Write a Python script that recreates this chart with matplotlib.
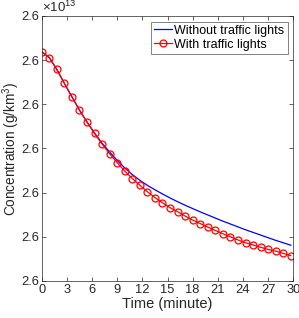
import matplotlib
matplotlib.use("Agg")
import matplotlib.pyplot as plt
from matplotlib.ticker import FuncFormatter, MultipleLocator

plt.rcParams['font.family'] = ['Liberation Sans', 'DejaVu Sans']
plt.rcParams['mathtext.default'] = 'regular'

# time (minutes)
time_min = [0.0, 0.9, 1.8, 2.7, 3.6, 4.5, 5.4, 6.3, 7.2, 8.1, 9.0, 9.9, 10.8, 11.7,
            12.6, 13.5, 14.4, 15.3, 16.2, 17.1, 18.0, 18.9, 19.8, 20.7, 21.6, 22.5,
            23.4, 24.3, 25.2, 26.1, 27.0, 27.9, 28.8, 29.7]

# concentration, expressed as offset above 2.5997e13 in units of 1e9 g/km^3
base = 2.5997e13
unit = 1e9
without_lights = [5.19, 5.06, 4.79, 4.475, 4.17, 3.87, 3.60, 3.35, 3.12, 2.92, 2.73,
                  2.56, 2.41, 2.28, 2.165, 2.065, 1.97, 1.88, 1.795, 1.715, 1.64,
                  1.565, 1.495, 1.425, 1.355, 1.29, 1.225, 1.16, 1.10, 1.04, 0.98,
                  0.92, 0.865, 0.81]
with_lights = [5.19, 5.06, 4.79, 4.475, 4.17, 3.87, 3.60, 3.34, 3.10, 2.88, 2.68,
               2.49, 2.32, 2.17, 2.02, 1.89, 1.77, 1.66, 1.57, 1.47, 1.38, 1.30,
               1.22, 1.145, 1.07, 1.00, 0.93, 0.865, 0.815, 0.763, 0.714, 0.675,
               0.625, 0.575]

y_without = [base + v * unit for v in without_lights]
y_with = [base + v * unit for v in with_lights]

fig = plt.figure(figsize=(2.99, 3.18), dpi=100)
ax = fig.add_axes([0.1395, 0.1164, 0.8415, 0.8333])

ax.plot(time_min, y_without, color='#0000ff', lw=0.9, label='Without traffic lights')
ax.plot(time_min, y_with, color='#ff0000', lw=0.9, marker='o', ms=5,
        mfc='none', mec='#ff0000', mew=0.9, label='With traffic lights')

ax.set_xlim(0, 30)
ax.set_ylim(base, base + 6 * unit)
ax.xaxis.set_major_locator(MultipleLocator(3))
ax.yaxis.set_major_locator(MultipleLocator(unit))
ax.yaxis.set_major_formatter(FuncFormatter(lambda v, p: f"{v/1e13:.1f}"))

axcol = '#262626'
for s in ax.spines.values():
    s.set_color(axcol)
    s.set_linewidth(0.5)
ax.tick_params(direction='in', top=True, right=True, length=3, width=0.5,
               color=axcol, labelsize=9.3, labelcolor=axcol, pad=2)

ax.set_xlabel('Time (minute)', fontsize=10.5, color=axcol, labelpad=1)
ax.set_ylabel('Concentration (g/km$^3$)', fontsize=9.8, color=axcol)
ax.yaxis.set_label_coords(-0.080, 0.5)
ax.text(0.0, 1.005, r'$\times10^{13}$', transform=ax.transAxes, fontsize=9.5,
        color=axcol, ha='left', va='bottom')

leg = ax.legend(loc='upper right', fontsize=9, frameon=True, fancybox=False,
                edgecolor=axcol, borderpad=0.25, handlelength=1.4,
                handletextpad=0.2, labelspacing=0.15, borderaxespad=0.45)
leg.get_frame().set_linewidth(0.5)
for t in leg.get_texts():
    t.set_color('black')

fig.savefig('out.png', dpi=100)
